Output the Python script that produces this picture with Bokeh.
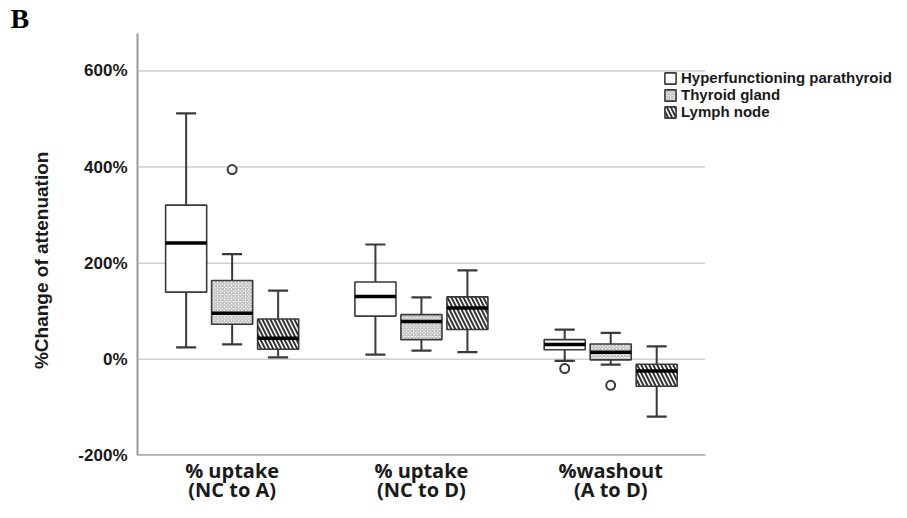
import numpy as np
from bokeh.plotting import figure
from bokeh.models import (ColumnDataSource, Range1d, FixedTicker, PrintfTickFormatter,
                          Legend, LegendItem, Title)
from bokeh.embed import file_html
from bokeh.resources import INLINE

categories = ["% uptake\n(NC to A)", "% uptake\n(NC to D)", "%washout\n(A to D)"]
series = ["Hyperfunctioning parathyroid", "Thyroid gland", "Lymph node"]

# stats per series: [group1, group2, group3]
hyper_low = [25, 10, -3]
hyper_q1 = [140, 90, 20]
hyper_med = [242, 131, 31]
hyper_q3 = [321, 161, 41]
hyper_up = [512, 239, 62]
hyper_out_cat = [2]
hyper_out_y = [-19]

thy_low = [31, 18, -11]
thy_q1 = [73, 41, -1]
thy_med = [96, 79, 15]
thy_q3 = [164, 93, 32]
thy_up = [219, 129, 55]
thy_out_cat = [0, 2]
thy_out_y = [395, -54]

lym_low = [4, 15, -119]
lym_q1 = [21, 62, -56]
lym_med = [44, 107, -24]
lym_q3 = [84, 130, -10]
lym_up = [143, 185, 27]

y_ticks = [-200, 0, 200, 400, 600]

n = len(categories)
centers = np.arange(n) + 0.5
p = figure(width=907, height=518, x_range=Range1d(0, 4.068),
           y_range=Range1d(-200, 678), output_backend="svg", toolbar_location=None,
           min_border_left=137, min_border_right=0, min_border_top=28,
           min_border_bottom=63)
p.outline_line_color = None
p.background_fill_color = "white"

# grid lines and base line only under the category area
p.xgrid.visible = False
p.ygrid.visible = False
p.segment(x0=[0] * len(y_ticks), x1=[n] * len(y_ticks), y0=y_ticks, y1=y_ticks,
          line_color="#cfcfcf", line_width=1.5)
p.segment(x0=[0], x1=[n], y0=[y_ticks[0]], y1=[y_ticks[0]], line_color="#9a9a9a", line_width=2.5)

offsets = [-0.243, 0.0, 0.243]
box_w = 0.217
cap_w = 0.106
edge = "#3a3a3a"

styles = [
    dict(fill_color="white"),
    dict(fill_color="white", hatch_pattern="diagonal_cross", hatch_color="#a8a8a8", hatch_scale=3.5, hatch_weight=1),
    dict(fill_color="white", hatch_pattern="left_diagonal_line", hatch_color="#333333", hatch_scale=8, hatch_weight=2),
]
stats = [
    (hyper_low, hyper_q1, hyper_med, hyper_q3, hyper_up),
    (thy_low, thy_q1, thy_med, thy_q3, thy_up),
    (lym_low, lym_q1, lym_med, lym_q3, lym_up),
]
outs = [(hyper_out_cat, hyper_out_y), (thy_out_cat, thy_out_y), ([], [])]

items = []
for i, (name, st, off, sty) in enumerate(zip(series, stats, offsets, styles)):
    low, q1, med, q3, up = st
    x = centers + off
    src = ColumnDataSource(dict(x=x, cl=x - cap_w / 2, cr=x + cap_w / 2,
                                bl=x - box_w / 2, br=x + box_w / 2,
                                low=low, q1=q1, med=med, q3=q3, up=up))
    p.segment(x0="x", x1="x", y0="q3", y1="up", source=src, line_color=edge, line_width=2)
    p.segment(x0="x", x1="x", y0="low", y1="q1", source=src, line_color=edge, line_width=2)
    p.segment(x0="cl", x1="cr", y0="up", y1="up", source=src, line_color=edge, line_width=2.2)
    p.segment(x0="cl", x1="cr", y0="low", y1="low", source=src, line_color=edge, line_width=2.2)
    r = p.vbar(x="x", bottom="q1", top="q3", width=box_w, source=src, line_color=edge,
               line_width=1.6, **sty)
    p.segment(x0="bl", x1="br", y0="med", y1="med", source=src, line_color="black", line_width=3.5)
    oc, oy = outs[i]
    if oc:
        osrc = ColumnDataSource(dict(x=centers[oc] + off, y=oy))
        p.scatter(x="x", y="y", source=osrc, size=9, marker="circle",
                  fill_color="white", line_color=edge, line_width=2)
    items.append(LegendItem(label=name, renderers=[r]))

legend = Legend(items=items, location=(526, 335), padding=0, margin=0, spacing=0,
                glyph_width=14, glyph_height=14, label_height=14, label_standoff=4,
                label_text_font="Liberation Sans", label_text_font_style="bold",
                label_text_font_size="15px", label_text_color="#1a1a1a",
                border_line_color=None, background_fill_alpha=0)
p.add_layout(legend, "center")

p.xaxis.ticker = FixedTicker(ticks=list(centers))
p.xaxis.major_label_overrides = {float(c): lab for c, lab in zip(centers, categories)}
p.xaxis.axis_line_color = None
p.xaxis.major_tick_line_color = None
p.xaxis.minor_tick_line_color = None
p.xaxis.major_label_text_font = "Open Sans"
p.xaxis.major_label_text_font_style = "bold"
p.xaxis.major_label_text_font_size = "20px"
p.xaxis.major_label_text_line_height = 0.72
p.xaxis.major_label_text_color = "#1a1a1a"
p.xaxis.major_label_standoff = -5

p.yaxis.ticker = FixedTicker(ticks=y_ticks)
p.yaxis.formatter = PrintfTickFormatter(format="%d%%")
p.yaxis.major_tick_line_color = None
p.yaxis.minor_tick_line_color = None
p.yaxis.axis_line_color = "#9a9a9a"
p.yaxis.axis_line_width = 2
p.yaxis.major_label_text_font = "Liberation Sans"
p.yaxis.major_label_text_font_style = "bold"
p.yaxis.major_label_text_font_size = "17px"
p.yaxis.major_label_text_color = "#1a1a1a"
p.yaxis.major_label_standoff = 4
p.yaxis.axis_label = "%Change of attenuation" + "\u00a0" * 6
p.yaxis.axis_label_text_font = "Liberation Sans"
p.yaxis.axis_label_text_font_style = "bold"
p.yaxis.axis_label_text_font_size = "19px"
p.yaxis.axis_label_text_color = "#1a1a1a"
p.yaxis.axis_label_standoff = 23

title = Title(text="B", align="left", offset=-127, standoff=0,
              text_font="Liberation Serif", text_font_style="bold", text_font_size="28px",
              text_color="black")
p.add_layout(title, "above")

open("out.html", "w").write(file_html(p, INLINE))
